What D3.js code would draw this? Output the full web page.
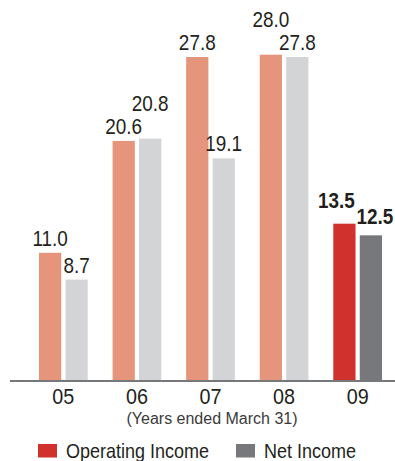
<!DOCTYPE html>
<html>
<head>
<meta charset="utf-8">
<script src="https://cdn.jsdelivr.net/npm/d3@7"></script>
<style>
  html, body { margin: 0; padding: 0; background: #fff; }
  svg { display: block; }
  text { font-family: "Liberation Sans", Arial, sans-serif; fill: #231f20; }
</style>
</head>
<body>
<svg id="chart" width="395" height="461"></svg>
<script>
// ---- data ----
const years = ["05", "06", "07", "08", "09"];
const operatingIncome = [11.0, 20.6, 27.8, 28.0, 13.5];
const netIncome = [8.7, 20.8, 19.1, 27.8, 12.5];
const seriesNames = ["Operating Income", "Net Income"];
const xAxisTitle = "(Years ended March 31)";
const highlightYear = "09";

// ---- styles ----
const colors = {
  op: "#e4957c", net: "#d3d4d6",
  opHi: "#d1312d", netHi: "#77787c",
  axis: "#77787b"
};

const svg = d3.select("#chart");
const baseY = 381;

const x0 = d3.scaleBand().domain(years).range([39, 382]).paddingInner(0.338).paddingOuter(0);
const x1 = d3.scaleBand().domain(["op", "net"]).range([0, x0.bandwidth()]).paddingInner(0.16).paddingOuter(0);
const y = d3.scaleLinear().domain([0, 28]).range([baseY, 54.7]);

const rows = years.map((yr, i) => ({ year: yr, op: operatingIncome[i], net: netIncome[i] }));

// bars
const groups = svg.append("g").selectAll("g").data(rows).join("g")
  .attr("transform", d => `translate(${x0(d.year)},0)`);

groups.selectAll("rect").data(d => ["op", "net"].map(k => ({ key: k, value: d[k], year: d.year })))
  .join("rect")
  .attr("x", d => x1(d.key))
  .attr("width", x1.bandwidth())
  .attr("y", d => y(d.value))
  .attr("height", d => baseY - y(d.value))
  .attr("fill", d => d.year === highlightYear ? (d.key === "op" ? colors.opHi : colors.netHi) : colors[d.key]);

// value labels
const sx = 0.86;
rows.forEach(d => {
  const hi = d.year === highlightYear;
  const lab = {};
  ["op", "net"].forEach(k => {
    lab[k] = { x: x0(d.year) + x1(k) + x1.bandwidth() / 2, y: y(d[k]) - 7, v: d[k] };
  });
  if (hi) {
    lab.net.y = y(d.net) - 11; lab.net.x += 4;
    lab.op.y = lab.net.y - 16.6; lab.op.x -= 8;
  } else if (Math.abs(d.op - d.net) < 0.5) {
    const top = d.op > d.net ? "op" : "net";
    const other = top === "op" ? "net" : "op";
    lab[top].y = lab[other].y - 23;
  }
  ["op", "net"].forEach(k => {
    svg.append("text")
      .attr("transform", `translate(${lab[k].x},${lab[k].y}) scale(${sx},1)`)
      .attr("text-anchor", "middle")
      .style("font-size", "22px")
      .style("font-weight", hi ? "bold" : "normal")
      .text(d3.format(".1f")(lab[k].v));
  });
});

// axis
const axis = d3.axisBottom(x0).tickSize(0).tickPadding(7);
const ax = svg.append("g").attr("transform", `translate(0,${baseY})`).call(axis);
ax.select(".domain").remove();
ax.selectAll(".tick text")
  .style("font-size", "22px")
  .style("font-family", "'Liberation Sans', Arial, sans-serif")
  .attr("fill", "#231f20")
  .attr("transform", "scale(0.9,1)");
svg.append("line")
  .attr("x1", 10).attr("x2", 395).attr("y1", baseY).attr("y2", baseY)
  .attr("stroke", colors.axis).attr("stroke-width", 2);

svg.append("text")
  .attr("x", (x0(years[0]) + x0(years[years.length - 1]) + x0.bandwidth()) / 2 + 1.5)
  .attr("y", 424)
  .attr("text-anchor", "middle")
  .style("font-size", "16px")
  .style("fill", "#3a3a3a")
  .text(xAxisTitle);

// legend
const legend = [
  { name: seriesNames[0], color: colors.opHi, x: 38 },
  { name: seriesNames[1], color: colors.netHi, x: 236 }
];
legend.forEach(l => {
  svg.append("rect").attr("x", l.x).attr("y", 444).attr("width", 19).attr("height", 13.5).attr("fill", l.color);
  svg.append("text")
    .attr("transform", `translate(${l.x + 28},458) scale(0.9,1)`)
    .style("font-size", "20px")
    .text(l.name);
});
</script>
</body>
</html>
